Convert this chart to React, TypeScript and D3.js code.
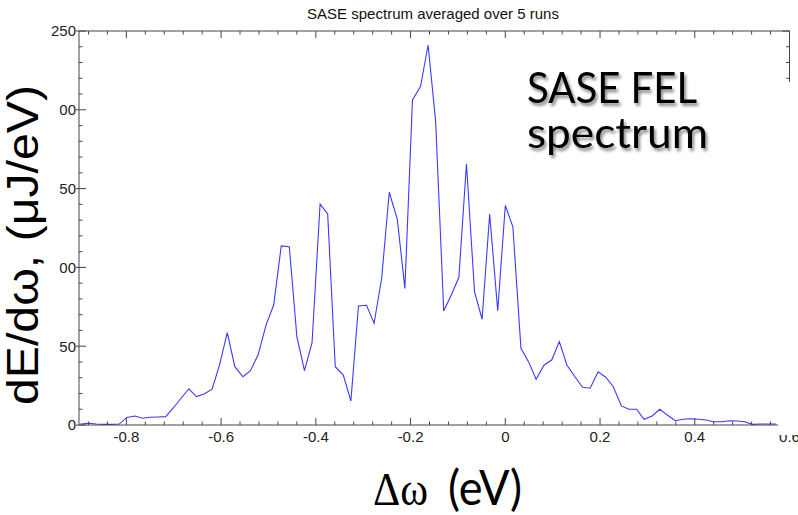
import React from "react";
import * as d3 from "d3";

const energy: number[] = [
  -0.897, -0.88, -0.864, -0.848, -0.831, -0.815, -0.799, -0.782, -0.766, -0.75, -0.734, -0.717,
  -0.701, -0.685, -0.668, -0.652, -0.636, -0.619, -0.603, -0.587,
  -0.571, -0.554, -0.538, -0.522, -0.505, -0.489, -0.473, -0.456,
  -0.44, -0.424, -0.408, -0.391, -0.375, -0.359, -0.342, -0.326,
  -0.31, -0.293, -0.277, -0.261, -0.245, -0.228, -0.212, -0.196,
  -0.179, -0.163, -0.147, -0.13, -0.114, -0.098, -0.082, -0.065,
  -0.049, -0.033, -0.016, 0, 0.016, 0.033, 0.049, 0.065,
  0.082, 0.098, 0.114, 0.13, 0.147, 0.163, 0.179, 0.196,
  0.212, 0.228, 0.245, 0.261, 0.277, 0.293, 0.31, 0.326,
  0.342, 0.359, 0.375, 0.391, 0.408, 0.424, 0.44, 0.456,
  0.473, 0.489, 0.505, 0.522, 0.538, 0.554, 0.571,
];

const spectrum: number[] = [
  0.6, 1.1, 0.6, 0.4, 0.4, 0.6, 4.8, 5.7, 4.3, 4.9, 5.1, 5.3,
  10.8, 16.8, 23.0, 18.0, 19.7, 22.7, 38.5, 58.6,
  37.0, 30.6, 34.5, 44.4, 63.5, 76.1, 113.6, 113.1,
  56.0, 34.5, 52.2, 140.2, 133.9, 37.0, 31.7, 15.2,
  75.5, 76.0, 64.5, 93.1, 147.7, 130.5, 86.7, 206.2,
  214.7, 241.1, 192.5, 72.3, 82.5, 93.7, 165.6, 84.6,
  67.1, 133.9, 72.5, 139.3, 125.8, 48.7, 40.2, 29.0,
  38.1, 41.2, 52.9, 38.1, 30.6, 23.9, 23.3, 33.8,
  30.3, 24.3, 12.1, 10.0, 10.0, 3.6, 5.7, 10.0,
  6.3, 2.7, 3.6, 4.0, 3.6, 3.2, 2.1, 2.1,
  2.7, 2.5, 2.1, 0.4, 0.6, 0.6, 0.6,
];

const xTickValues: number[] = [-0.8, -0.6, -0.4, -0.2, 0, 0.2, 0.4, 0.6];
const xTickLabels: string[] = ["-0.8", "-0.6", "-0.4", "-0.2", "0", "0.2", "0.4", "0.6"];
const yTickValues: number[] = [0, 50, 100, 150, 200, 250];
const yTickLabels: string[] = ["0", "50", "100", "150", "200", "250"];

const title = "SASE spectrum averaged over 5 runs";

export default function App() {
  const left = 79, right = 789.5, top = 31, bottom = 425;
  const x = d3.scaleLinear().domain([-0.9, 0.6]).range([left, right]);
  const y = d3.scaleLinear().domain([0, 250]).range([bottom, top]);

  const line = d3
    .line<number>()
    .x((_, i) => x(energy[i]))
    .y((d) => y(d));
  const path = line(spectrum) || "";

  const xMinor = d3.range(-0.88, 0.6001, 0.04).filter(
    (v) => !xTickValues.some((m) => Math.abs(m - v) < 1e-6)
  );
  const yMinor = d3.range(10, 250, 10).filter((v) => v % 50 !== 0);

  const axisColor = "#444";
  const labelFont = "'Liberation Sans', Arial, sans-serif";

  return (
    <div style={{ position: "absolute", left: 0, top: 0 }}>
      <svg width={798} height={515} style={{ display: "block", background: "#fff" }}>
        <defs>
          <clipPath id="plotclip">
            <rect x={left} y={top} width={right - left} height={bottom - top} />
          </clipPath>
          <filter id="shadow" x="-10%" y="-10%" width="130%" height="150%">
            <feDropShadow dx="2" dy="3" stdDeviation="1.8" floodColor="#000" floodOpacity="0.45" />
          </filter>
        </defs>

        {/* title */}
        <text x={433} y={18.5} fontFamily={labelFont} fontSize={15} textAnchor="middle" fill="#111">
          {title}
        </text>

        {/* data line */}
        <path d={path} fill="none" stroke="#3a3aff" strokeWidth={1.1} clipPath="url(#plotclip)" />

        {/* frame */}
        <rect x={left} y={top} width={right - left} height={bottom - top} fill="none" stroke={axisColor} strokeWidth={1} />

        {/* x ticks bottom & top */}
        {xTickValues.map((v, i) => (
          <g key={"xm" + i}>
            <line x1={x(v)} x2={x(v)} y1={bottom} y2={bottom - 7} stroke={axisColor} />
            <line x1={x(v)} x2={x(v)} y1={top} y2={top + 7} stroke={axisColor} />
            <text x={x(v)} y={442} fontFamily={labelFont} fontSize={15} textAnchor="middle" fill="#222">
              {xTickLabels[i]}
            </text>
          </g>
        ))}
        {xMinor.map((v, i) => (
          <g key={"xn" + i}>
            <line x1={x(v)} x2={x(v)} y1={bottom} y2={bottom - 3.5} stroke={axisColor} />
            <line x1={x(v)} x2={x(v)} y1={top} y2={top + 3.5} stroke={axisColor} />
          </g>
        ))}

        {/* y ticks left & right */}
        {yTickValues.map((v, i) => (
          <g key={"ym" + i}>
            <line x1={left - 3} x2={left + 7} y1={y(v)} y2={y(v)} stroke={axisColor} />
            <line x1={right} x2={right - 7} y1={y(v)} y2={y(v)} stroke={axisColor} />
            <text x={76} y={y(v) + 5.3} fontFamily={labelFont} fontSize={15} textAnchor="end" fill="#222">
              {yTickLabels[i]}
            </text>
          </g>
        ))}
        {yMinor.map((v, i) => (
          <g key={"yn" + i}>
            <line x1={left} x2={left + 3.5} y1={y(v)} y2={y(v)} stroke={axisColor} />
            <line x1={right} x2={right - 3.5} y1={y(v)} y2={y(v)} stroke={axisColor} />
          </g>
        ))}

        {/* overlay boxes from the pasted annotations */}
        <rect x={0} y={42} width={59.5} height={258} fill="#fff" />
        <rect x={778} y={82} width={20} height={353} fill="#fff" />

        {/* big y axis title */}
        <text
          transform="translate(38,245) rotate(-90)"
          fontFamily={labelFont}
          fontSize={44}
          textAnchor="middle"
          textLength={320}
          lengthAdjust="spacingAndGlyphs"
          fill="#000"
        >
          dE/dω, (μJ/eV)
        </text>

        {/* big x axis title */}
        <text x={373} y={505} fontFamily="'Liberation Serif', 'Times New Roman', serif" fontSize={46}
          textLength={55} lengthAdjust="spacingAndGlyphs" fill="#000">
          Δω
        </text>
        <text x={448} y={505} fontFamily="Lato, 'Open Sans', sans-serif" fontSize={48}
          textLength={74} lengthAdjust="spacingAndGlyphs" fill="#000">
          (eV)
        </text>

        {/* annotation */}
        <g filter="url(#shadow)">
          <text x={527} y={103} fontFamily="Lato, 'Open Sans', sans-serif" fontSize={43}
            textLength={170} lengthAdjust="spacingAndGlyphs" fill="#000">
            SASE FEL
          </text>
          <text x={527} y={148} fontFamily="Lato, 'Open Sans', sans-serif" fontSize={43}
            textLength={181} lengthAdjust="spacingAndGlyphs" fill="#000">
            spectrum
          </text>
        </g>
      </svg>
    </div>
  );
}
